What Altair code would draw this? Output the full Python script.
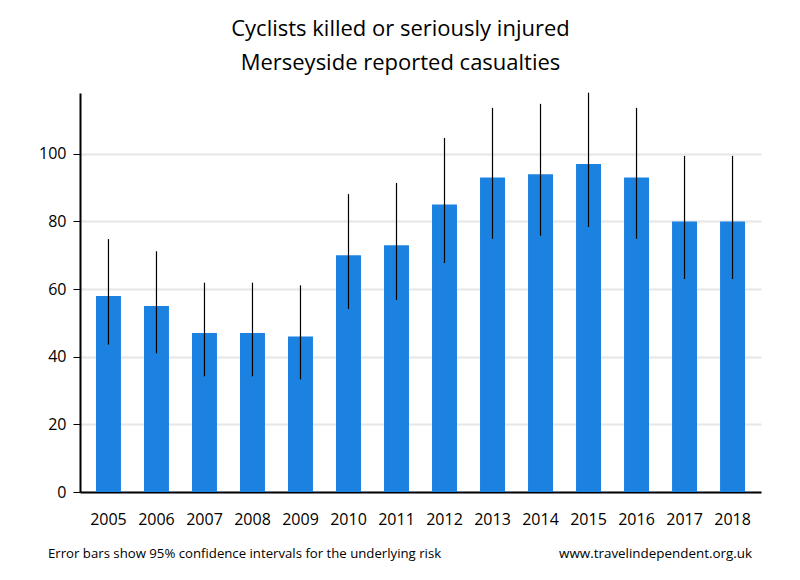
import altair as alt
import pandas as pd

years = [str(y) for y in range(2005, 2019)]
casualties = [58, 55, 47, 47, 46, 70, 73, 85, 93, 94, 97, 93, 80, 80]
ci_low = [43.6, 41.0, 34.2, 34.2, 33.3, 54.1, 56.8, 67.7, 74.9, 75.8, 78.4, 74.9, 63.0, 63.0]
ci_high = [74.8, 71.2, 61.9, 61.9, 61.1, 88.1, 91.4, 104.7, 113.6, 114.8, 118.1, 113.6, 99.4, 99.4]
y_ticks = [0, 20, 40, 60, 80, 100]
title_lines = ["Cyclists killed or seriously injured", "Merseyside reported casualties"]
footer_left = ["Error bars show 95% confidence intervals for the underlying risk"]
footer_right = ["www.travelindependent.org.uk"]

df = pd.DataFrame({"year": years, "casualties": casualties, "low": ci_low, "high": ci_high})

FONT = "Open Sans"

x = alt.X(
    "year:N",
    scale=alt.Scale(paddingInner=0.48, paddingOuter=0.333),
    axis=alt.Axis(title=None, labelAngle=0, ticks=False, domainColor="black", domainWidth=2,
                  labelFontSize=16, labelColor="black", labelPadding=19, labelFont=FONT, grid=False),
)
y_scale = alt.Scale(domain=[0, 118], nice=False)

bars = alt.Chart(df).mark_bar(color="#1b82e1").encode(
    x=x,
    y=alt.Y("casualties:Q", scale=y_scale,
            axis=alt.Axis(title=None, values=y_ticks, grid=True, gridColor="#e6e6e6", gridWidth=2,
                          domainColor="black", domainWidth=2, tickColor="black", tickSize=7,
                          labelFontSize=16, labelColor="black", labelPadding=7, labelFont=FONT)),
)

errs = alt.Chart(df).mark_rule(color="black", strokeWidth=1.2).encode(
    x=alt.X("year:N"),
    y=alt.Y("low:Q", scale=y_scale),
    y2="high:Q",
)

fl = alt.Chart(pd.DataFrame({"t": footer_left})).mark_text(
    align="left", baseline="alphabetic", fontSize=13.2, font=FONT, color="black"
).encode(x=alt.value(-32), y=alt.value(465), text="t:N")

fr = alt.Chart(pd.DataFrame({"t": footer_right})).mark_text(
    align="right", baseline="alphabetic", fontSize=13.4, font=FONT, color="black"
).encode(x=alt.value(672), y=alt.value(465), text="t:N")

chart = (
    alt.layer(bars, errs, fl, fr)
    .properties(
        width=681,
        height=399,
        padding={"left": 72, "top": 85, "right": 31, "bottom": 78},
        autosize=alt.AutoSizeParams(type="none"),
        title=alt.TitleParams(text=title_lines, fontSize=22, font=FONT, fontWeight="normal",
                              color="black", lineHeight=34, anchor="middle", dx=-20, offset=17),
    )
    .configure_view(stroke=None)
)

chart.save("out.html", embed_options={"renderer": "svg", "actions": False})
